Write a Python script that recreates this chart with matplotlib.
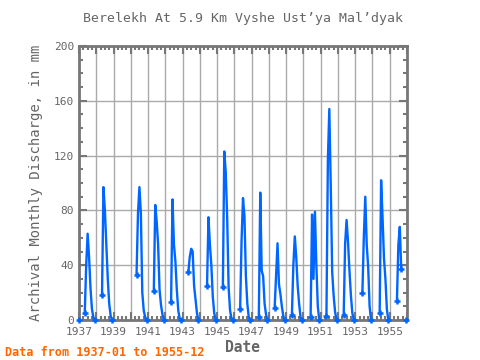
import numpy as np
import matplotlib
matplotlib.use("Agg")
import matplotlib.pyplot as plt
from matplotlib.ticker import MultipleLocator, FixedLocator

nan = np.nan
years = list(range(1937, 1956))
# Monthly discharge (mm), May..Dec for each year; Jan-Apr missing except Jan 1937
may_dec = [
    [5, 40, 63, 46, 23, 8, 2, 0],          # 1937
    [18, 97, 80, 55, 30, 12, 3, 0],        # 1938
    [nan] * 8,                             # 1939
    [33, 78, 97, 78, 20, 7, 2, 0],         # 1940
    [21, 84, 72, 55, 22, 11, 4, 0],        # 1941
    [13, 88, 55, 43, 22, 7, 1, 0],         # 1942
    [35, 46, 52, 50, 25, 15, 5, 0],        # 1943
    [nan, 25, 75, 55, 40, 17, 5, 0],       # 1944
    [24, 123, 108, 75, 24, 7, 1, 0],       # 1945
    [8, 58, 89, 76, 32, 12, 2, 0],         # 1946
    [nan, 2, 93, 36, 32, 12, 4, 0],        # 1947
    [9, 33, 56, 26, 19, 10, 3, 0],         # 1948
    [4, 40, 61, 46, 25, 12, 2, 0],         # 1949
    [nan, 2, 77, 30, 79, 40, 10, 0],       # 1950
    [3, 117, 154, 98, 35, 18, 6, 0],       # 1951
    [4, 56, 73, 57, 36, 18, 5, 0],         # 1952
    [nan, 20, 61, 90, 55, 39, 10, 0],      # 1953
    [nan, 5, 102, 75, 45, 30, 8, 0],       # 1954
    [nan, 14, 55, 68, 37, nan, nan, 0],    # 1955
]
jan_1937 = 0

# build monthly series
t = []
v = []
for yi, yr in enumerate(years):
    for m in range(12):
        t.append(yr + m / 12.0)
        if m >= 4:
            v.append(may_dec[yi][m - 4])
        elif yr == 1937 and m == 0:
            v.append(jan_1937)
        else:
            v.append(nan)
t = np.array(t)
v = np.array(v, dtype=float)

# endpoints of contiguous segments get markers
valid = ~np.isnan(v)
prev_nan = np.concatenate([[True], ~valid[:-1]])
next_nan = np.concatenate([~valid[1:], [True]])
ends = valid & (prev_nan | next_nan)

fig = plt.figure(figsize=(4.8, 3.6), dpi=100)
ax = fig.add_axes([79 / 480, 1 - 320 / 360, 328 / 480, 274 / 360])

blue = "#0066ff"
ax.plot(t, v, color=blue, lw=1.7, zorder=3)
ax.plot(t[ends], v[ends], linestyle="none", marker="+", ms=4.5, mew=1.8,
        color=blue, zorder=4, clip_on=False)

ax.set_xlim(1937, 1956)
ax.set_ylim(0, 200)

mono = "DejaVu Sans Mono"
gray = "#777777"
ax.xaxis.set_major_locator(FixedLocator(list(range(1937, 1957))))
ax.xaxis.set_minor_locator(MultipleLocator(0.25))
ax.set_xticklabels([str(y) if (y % 2 == 1 and y <= 1955) else "" for y in range(1937, 1957)])
ax.yaxis.set_major_locator(MultipleLocator(40))
ax.yaxis.set_minor_locator(MultipleLocator(10))

ax.grid(True, which="major", color="#aaaaaa", lw=1.0, zorder=1)
ax.tick_params(which="both", direction="in", top=True, right=True, color=gray,
               labelsize=8, labelcolor="#666666", width=1.5)
ax.tick_params(which="major", length=6)
ax.tick_params(which="minor", length=3)
ax.tick_params(axis="x", pad=5)
for lab in ax.get_xticklabels() + ax.get_yticklabels():
    lab.set_family(mono)
for s in ax.spines.values():
    s.set_color(gray)
    s.set_linewidth(2)

ax.set_title("Berelekh At 5.9 Km Vyshe Ust\u2019ya Mal\u2019dyak", family=mono,
             fontsize=9.5, color="#666666", pad=17)
ax.set_ylabel("Archival Monthly Discharge, in mm", family=mono, fontsize=10,
              color="#666666", labelpad=8)
ax.set_xlabel("Date", family=mono, fontsize=10.5, color="#666666", labelpad=2,
              fontweight="bold")
fig.text(5 / 480, 1 - 352 / 360, "Data from 1937-01 to 1955-12", family=mono,
         fontsize=8.5, color="#ff6600", fontweight="bold", va="center")

fig.savefig("out.png", dpi=100)
